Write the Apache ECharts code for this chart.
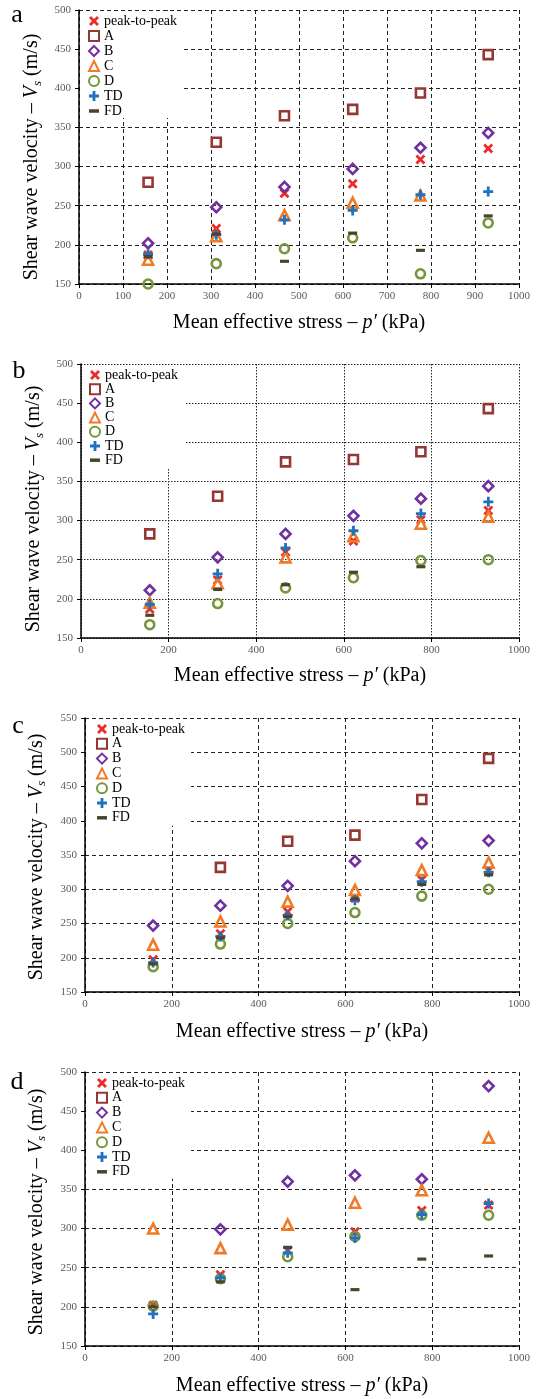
<!DOCTYPE html>
<html>
<head>
<meta charset="utf-8">
<script src="https://cdn.jsdelivr.net/npm/echarts@6/dist/echarts.min.js"></script>
<style>
html, body { margin: 0; padding: 0; background: #fff; }
#chart { width: 547px; height: 1399px; }
</style>
</head>
<body>
<div id="chart"></div>
<script>
// mean effective stress levels (kPa)
var stress = [157, 312, 467, 622, 776, 930];
var names = ['peak-to-peak', 'A', 'B', 'C', 'D', 'TD', 'FD'];

// Vs (m/s) per method, order = names
var panelA = [
    [187, 221, 266, 278, 309, 323],
    [280, 331, 365, 373, 394, 443],
    [202, 248, 274, 297, 324, 343],
    [181, 211, 238, 254, 263, null],
    [150, 176, 195, 209, 163, 228],
    [188, 213, 232, 244, 264, 268],
    [185, 214, 179, 215, 193, 237]
];
var panelB = [
    [187, 224, 260, 274, 301, 313],
    [283, 331, 375, 378, 388, 443],
    [211, 253, 283, 306, 328, 344],
    [195, 220, 253, 280, 296, 305],
    [167, 194, 214, 227, 249, 250],
    [193, 232, 265, 287, 309, 324],
    [179, 212, 218, 234, 241, null]
];
var panelC = [
    [197, 235, 267, 287, 314, 327],
    [null, 332, 370, 379, 431, 491],
    [247, 276, 305, 341, 367, 371],
    [219, 253, 282, 299, 328, 339],
    [187, 220, 250, 266, 290, 300],
    [193, 231, 262, 284, 311, 325],
    [191, 229, 260, 286, 307, 321]
];
var panelD = [
    [202, 241, 272, 296, 323, 330],
    [null, null, null, null, null, null],
    [null, 299, 360, 368, 363, 482],
    [300, 275, 305, 333, 349, 416],
    [201, 236, 264, 290, 317, 317],
    [191, 237, 269, 288, 318, 332],
    [200, 232, 276, 222, 261, 265]
];

var panels = [panelA, panelB, panelC, panelD];
var letters = ['a', 'b', 'c', 'd'];
var yMax = [500, 500, 550, 500];
var xStep = [100, 200, 200, 200];

// layout of each panel
var grids = [
    {left: 79, right: 28, top: 10, height: 274},
    {left: 81, right: 28, top: 364, height: 274},
    {left: 85, right: 28, top: 718, height: 274},
    {left: 85, right: 28, top: 1072, height: 274}
];
var legendPos = [
    {left: 80, top: 11, padding: [3, 5, 0, 8], itemGap: 1},
    {left: 82, top: 365, padding: [3, 8, 1, 7], itemGap: 0.2},
    {left: 86, top: 719, padding: [3, 6, 1, 10], itemGap: 0.8},
    {left: 86, top: 1073, padding: [3, 6, 0, 10], itemGap: 0.8}
];
var yNameGap = [35, 35, 37, 37];
var yNameShift = [20, 16, 4, 6];
var xNameGap = [29, 28, 30, 30];
var letterPos = [[17, 15], [19, 371], [18, 726], [17, 1082]];
var gridDash = [[4, 3], [1.5, 1.5], [4, 3], [4, 3]];

var serif = 'Liberation Serif';
var X_PATH = 'path://M2,0L5,3L8,0L10,2L7,5L10,8L8,10L5,7L2,10L0,8L3,5L0,2Z';
var PLUS_PATH = 'path://M3.6,0H6.4V3.6H10V6.4H6.4V10H3.6V6.4H0V3.6H3.6Z';
var DASH_PATH = 'path://M0,0H10V3.5H0Z';

var looks = [
    {symbol: X_PATH, size: 10, color: '#ec2d27', hollow: false},
    {symbol: 'rect', size: 9, color: '#953735', hollow: true},
    {symbol: 'diamond', size: 10, color: '#7030a0', hollow: true},
    {symbol: 'triangle', size: 10, color: '#f07a26', hollow: true},
    {symbol: 'circle', size: 9, color: '#77963c', hollow: true},
    {symbol: PLUS_PATH, size: 10, color: '#1f72bd', hollow: false},
    {symbol: DASH_PATH, size: 9, color: '#4a452a', hollow: false}
];

function plain(v) { return String(v); }

var option = {
    animation: false,
    backgroundColor: '#fff',
    grid: [], xAxis: [], yAxis: [], legend: [], series: [], graphic: []
};

for (var p = 0; p < 4; p++) {
    option.grid.push(grids[p]);
    option.xAxis.push({
        type: 'value', gridIndex: p, min: 0, max: 1000, interval: xStep[p],
        name: '{t|Mean effective stress – }{i|p′}{t| (kPa)}',
        nameLocation: 'middle', nameGap: xNameGap[p],
        nameTextStyle: {
            fontFamily: serif, fontSize: 20, color: '#000',
            rich: {
                t: {fontFamily: serif, fontSize: 20, color: '#000'},
                i: {fontFamily: serif, fontSize: 20, color: '#000', fontStyle: 'italic'}
            }
        },
        axisLine: {show: true, onZero: false, lineStyle: {color: '#000', width: 1.5}},
        axisTick: {show: true, length: 4, lineStyle: {color: '#000'}},
        axisLabel: {fontFamily: serif, fontSize: 11, color: '#595959', margin: 7, formatter: plain},
        splitLine: {show: true, lineStyle: {color: '#222', width: 1, type: gridDash[p]}}
    });
    option.yAxis.push({
        type: 'value', gridIndex: p, min: 150, max: yMax[p], interval: 50,
        name: '{t|Shear wave velocity – }{i|V}{s|s}{t| (m/s)}',
        nameLocation: 'middle', nameGap: yNameGap[p],
        nameTextStyle: {
            fontFamily: serif, fontSize: 20, color: '#000',
            padding: [0, yNameShift[p], 0, 0],
            rich: {
                t: {fontFamily: serif, fontSize: 20, color: '#000'},
                i: {fontFamily: serif, fontSize: 20, color: '#000', fontStyle: 'italic'},
                s: {fontFamily: serif, fontSize: 13, color: '#000', fontStyle: 'italic', padding: [10, 0, 0, 0]}
            }
        },
        axisLine: {show: true, onZero: false, lineStyle: {color: '#000', width: 1.5}},
        axisTick: {show: true, length: 4, lineStyle: {color: '#000'}},
        axisLabel: {fontFamily: serif, fontSize: 11, color: '#595959', margin: 8, formatter: plain},
        splitLine: {show: true, lineStyle: {color: '#222', width: 1, type: gridDash[p]}}
    });
    option.legend.push({
        orient: 'vertical',
        left: legendPos[p].left, top: legendPos[p].top,
        padding: legendPos[p].padding, itemGap: legendPos[p].itemGap,
        backgroundColor: '#fff',
        itemWidth: 10, itemHeight: 10,
        selectedMode: false,
        data: names,
        textStyle: {fontFamily: serif, fontSize: 14, color: '#000', lineHeight: 14}
    });
    for (var s = 0; s < names.length; s++) {
        var vals = panels[p][s];
        var pts = [];
        for (var i = 0; i < stress.length; i++) {
            if (vals[i] != null) pts.push([stress[i], vals[i]]);
        }
        var lk = looks[s];
        option.series.push({
            name: names[s], type: 'scatter',
            xAxisIndex: p, yAxisIndex: p,
            symbol: lk.symbol, symbolSize: lk.size, symbolKeepAspect: true,
            itemStyle: lk.hollow
                ? {color: 'rgba(255,255,255,0)', borderColor: lk.color, borderWidth: 2.6, opacity: 1}
                : {color: lk.color, opacity: 1},
            data: pts
        });
    }
    option.graphic.push({
        type: 'text',
        x: letterPos[p][0], y: letterPos[p][1],
        style: {text: letters[p], fontFamily: serif, fontSize: 26, fill: '#000',
            textAlign: 'center', textVerticalAlign: 'middle'}
    });
}

var myChart = echarts.init(document.getElementById('chart'));
myChart.setOption(option);
</script>
</body>
</html>
